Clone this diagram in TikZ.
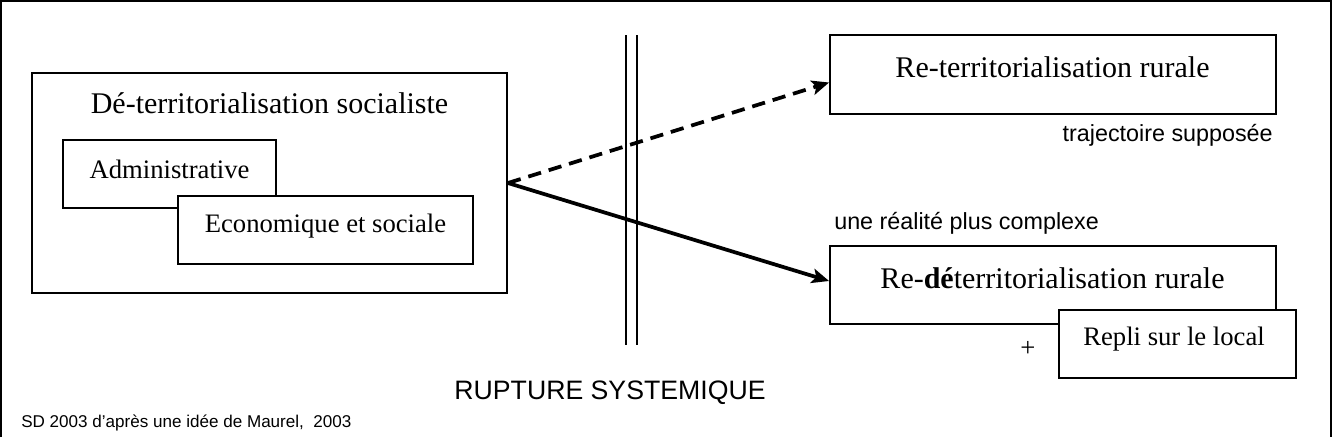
\documentclass[tikz,border=0pt]{standalone}
\usepackage{fontspec}
\setmainfont{Liberation Serif}
\setsansfont{Liberation Sans}
\usetikzlibrary{arrows.meta}

\tikzset{
  boxshape/.style={draw, line width=1.4pt, fill=white, inner sep=0pt},
  bigtxt/.style={inner sep=0.75pt, font=\fontsize{22.5}{27}\selectfont},
  boxtxt/.style={inner sep=0.75pt, font=\fontsize{20}{24}\selectfont},
  notetxt/.style={inner sep=0.75pt, font=\sffamily\fontsize{17.5}{21}\selectfont},
  trajarrow/.style={line width=2.8pt, -{Stealth[length=13pt,width=11pt,inset=3pt]}},
}

\begin{document}
\begin{tikzpicture}[x=0.75pt,y=0.75pt,yscale=-1,xscale=1]
    \useasboundingbox (0,0) rectangle (1338,437);

    %Frame (open at the bottom)
    \draw [line width=1.4pt] (1,437) -- (1,1) -- (1331,1) -- (1331,437) ;

    %Shape: Rectangle [deter]
    \node [boxshape, minimum width=356.25pt, minimum height=165pt] (deter) at (269.5,183) {};
    %Shape: Rectangle [admin]
    \node [boxshape, minimum width=159.75pt, minimum height=51pt] (admin) at (169.5,174) {};
    %Shape: Rectangle [econ]
    \node [boxshape, minimum width=221.25pt, minimum height=51pt] (econ) at (325.5,230) {};

    %Shape: Rectangle [reter]
    \node [boxshape, minimum width=334.5pt, minimum height=59.25pt] (reter) at (1053,74.5) {};
    %Shape: Rectangle [redeter]
    \node [boxshape, minimum width=334.5pt, minimum height=58.5pt] (redeter) at (1053,285) {};
    %Shape: Rectangle [repli]
    \node [boxshape, minimum width=177.75pt, minimum height=51pt] (repli) at (1177.5,344) {};

    %Straight Lines (rupture)
    \draw [line width=0.9pt] (626,35) -- (626,345) ;
    \draw [line width=0.9pt] (637,35) -- (637,345) ;

    %Arrows
    \draw [trajarrow, dash pattern=on 10pt off 6pt] (deter.east) -- ([yshift=6pt]reter.west) ;
    \draw [trajarrow] (deter.east) -- ([yshift=-3pt]redeter.west) ;

    % Text Node
    \node [bigtxt] (deterlbl) at (269.5,103) {Dé-territorialisation socialiste};
    % Text Node
    \node [boxtxt] (adminlbl) at (169.5,169) {Administrative};
    % Text Node
    \node [boxtxt] (econlbl) at (325.5,226) {Economique et sociale};
    % Text Node
    \node [bigtxt] (reterlbl) at (1052.5,67) {Re-territorialisation rurale};
    % Text Node
    \node [bigtxt] (redeterlbl) at (1052.5,278) {Re-\textbf{dé}territorialisation rurale};
    % Text Node
    \node [boxtxt] (replilbl) at (1174,339) {Repli sur le local};
    % Text Node
    \node [inner sep=0.75pt, font=\fontsize{20}{24}\selectfont] (plus) at (1028,349) {+};
    % Text Node
    \node [notetxt, anchor=east] (traj) at (1274,135) {trajectoire supposée};
    % Text Node
    \node [notetxt, anchor=west] (reel) at (833,223) {une réalité plus complexe};
    % Text Node
    \node [inner sep=0.75pt, font=\sffamily\fontsize{20}{24}\selectfont] (rupture) at (610,393) {RUPTURE SYSTEMIQUE};
    % Text Node
    \node [inner sep=0.75pt, anchor=west, font=\sffamily\fontsize{12.8}{15}\selectfont] (source) at (20,423) {SD 2003 d’après une idée de Maurel,\ \ 2003};

\end{tikzpicture}
\end{document}
